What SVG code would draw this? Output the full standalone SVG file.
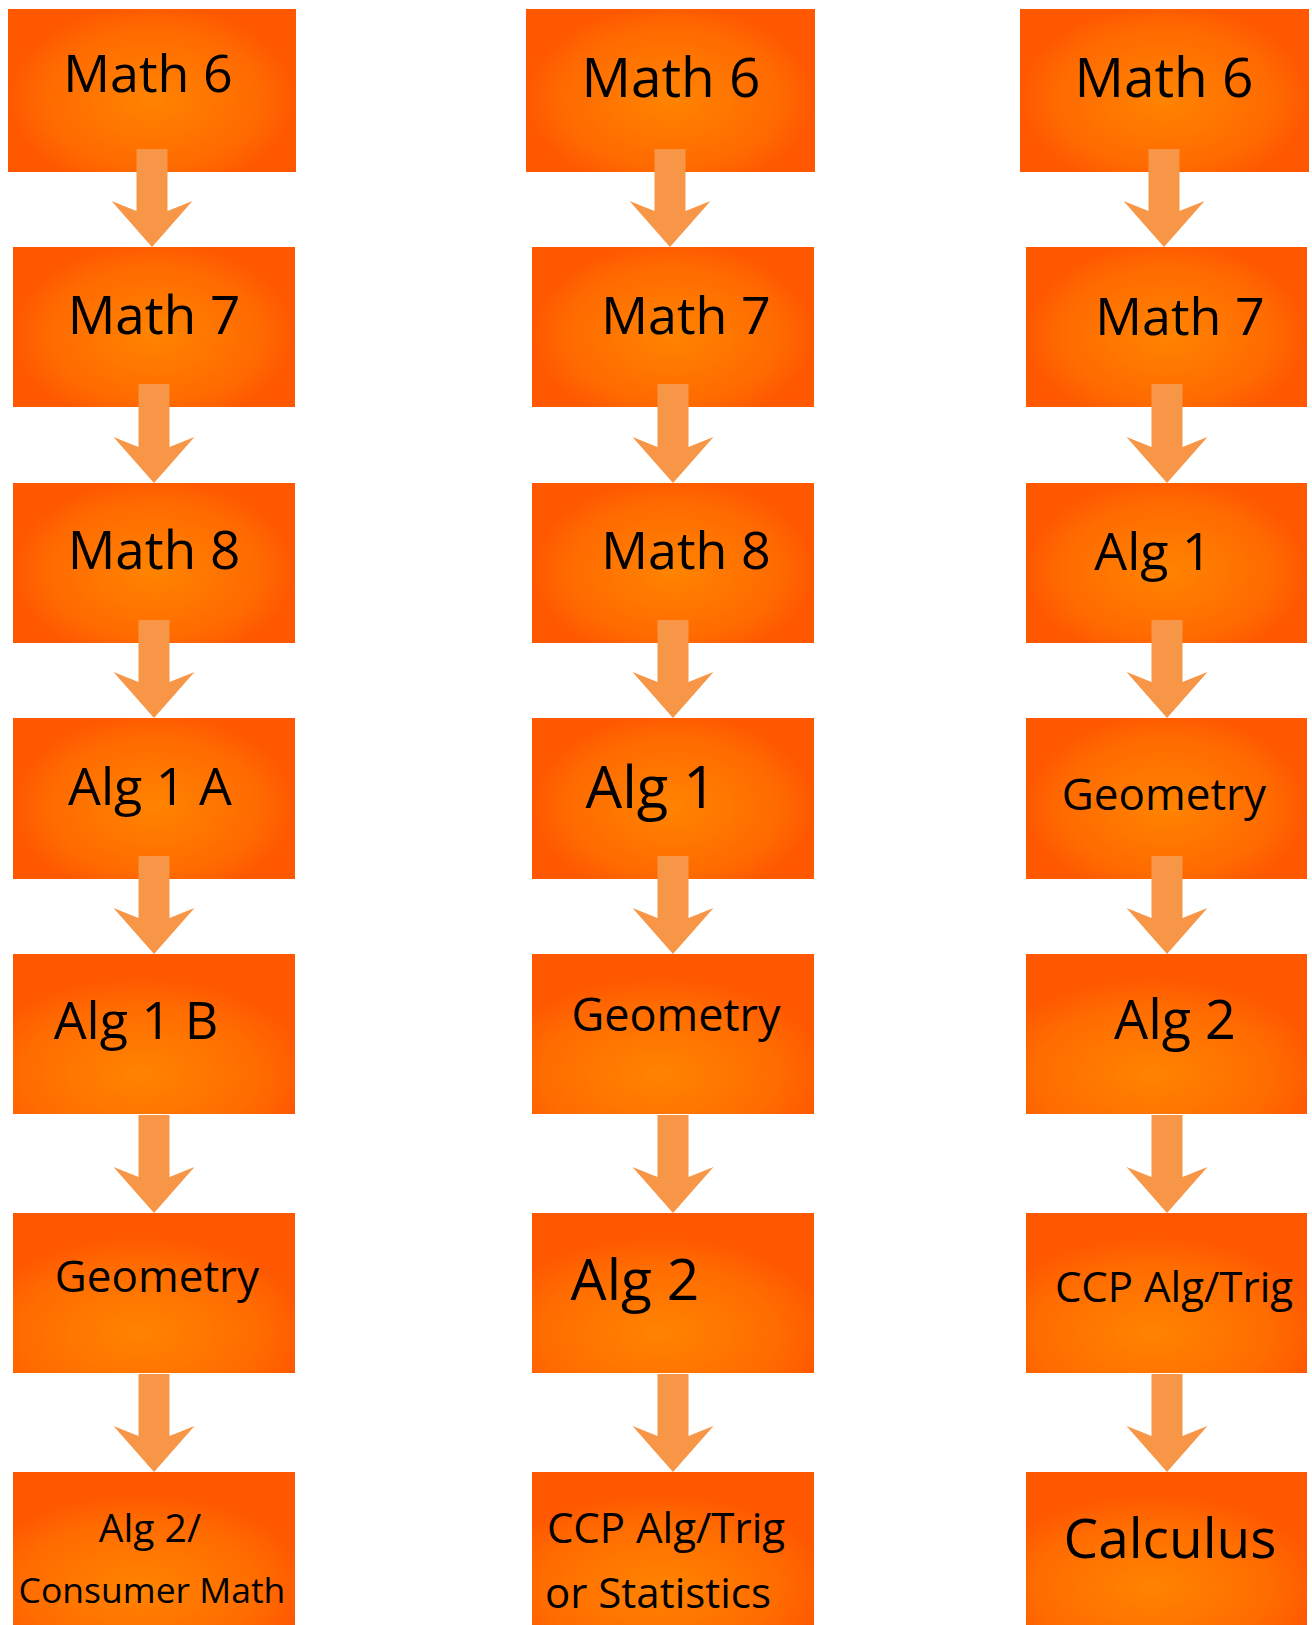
<svg xmlns="http://www.w3.org/2000/svg" width="1312" height="1625" viewBox="0 0 1312 1625">
<defs>
<radialGradient id="gUp" cx="0.5" cy="0.55" r="0.5" fx="0.5" fy="0.55" gradientTransform="translate(0.5 0.55) scale(1 1.15) translate(-0.5 -0.55)">
<stop offset="0" stop-color="#FF8400"/>
<stop offset="0.75" stop-color="#FF6A00"/>
<stop offset="1" stop-color="#FF5800"/>
</radialGradient>
<radialGradient id="gLow" cx="0.45" cy="0.75" r="0.6" fx="0.45" fy="0.75">
<stop offset="0" stop-color="#FF8400"/>
<stop offset="0.7" stop-color="#FF6C00"/>
<stop offset="1" stop-color="#FF5800"/>
</radialGradient>
<style>
.up{fill:url(#gUp)}
.low{fill:url(#gLow)}
.t{font-family:"Open Sans","Noto Sans",sans-serif;fill:#000;text-anchor:middle}
.arr{fill:#F79646}
</style>
</defs>
<rect width="1312" height="1625" fill="#fff"/>

<g id="c1r1"><rect class="up" x="8" y="9" width="288" height="163"/><text class="t" x="148" y="92" font-size="52">Math 6</text></g>
<g id="c1r2"><rect class="up" x="13" y="247" width="282" height="160"/><text class="t" x="154" y="334" font-size="53">Math 7</text></g>
<g id="c1r3"><rect class="up" x="13" y="483" width="282" height="160"/><text class="t" x="154" y="569" font-size="53">Math 8</text></g>
<g id="c1r4"><rect class="up" x="13" y="718" width="282" height="161"/><text class="t" x="150" y="805" font-size="52">Alg 1 A</text></g>
<g id="c1r5"><rect class="low" x="13" y="954" width="282" height="160"/><text class="t" x="136" y="1039" font-size="52">Alg 1 B</text></g>
<g id="c1r6"><rect class="low" x="13" y="1213" width="282" height="160"/><text class="t" x="157" y="1292" font-size="44">Geometry</text></g>
<g id="c1r7"><rect class="low" x="13" y="1472" width="282" height="153"/><text class="t" x="150" y="1542" font-size="39">Alg 2/</text><text class="t" x="152" y="1603" font-size="35.5">Consumer Math</text></g>

<g id="c2r1"><rect class="up" x="526" y="9" width="289" height="163"/><text class="t" x="671" y="97" font-size="55">Math 6</text></g>
<g id="c2r2"><rect class="up" x="532" y="247" width="282" height="160"/><text class="t" x="686" y="334" font-size="52">Math 7</text></g>
<g id="c2r3"><rect class="up" x="532" y="483" width="282" height="160"/><text class="t" x="686" y="569" font-size="52">Math 8</text></g>
<g id="c2r4"><rect class="up" x="532" y="718" width="282" height="161"/><text class="t" x="651" y="808" font-size="58">Alg 1</text></g>
<g id="c2r5"><rect class="low" x="532" y="954" width="282" height="160"/><text class="t" x="676" y="1031" font-size="45">Geometry</text></g>
<g id="c2r6"><rect class="low" x="532" y="1213" width="282" height="160"/><text class="t" x="635" y="1300" font-size="57">Alg 2</text></g>
<g id="c2r7"><rect class="low" x="532" y="1472" width="282" height="153"/><text class="t" x="666" y="1543" font-size="42">CCP Alg/Trig</text><text class="t" x="658" y="1608" font-size="42">or Statistics</text></g>

<g id="c3r1"><rect class="up" x="1020" y="9" width="289" height="163"/><text class="t" x="1164" y="97" font-size="55">Math 6</text></g>
<g id="c3r2"><rect class="up" x="1026" y="247" width="281" height="160"/><text class="t" x="1180" y="335" font-size="52">Math 7</text></g>
<g id="c3r3"><rect class="up" x="1026" y="483" width="281" height="160"/><text class="t" x="1153" y="570" font-size="52">Alg 1</text></g>
<g id="c3r4"><rect class="up" x="1026" y="718" width="281" height="161"/><text class="t" x="1164" y="810" font-size="44">Geometry</text></g>
<g id="c3r5"><rect class="low" x="1026" y="954" width="281" height="160"/><text class="t" x="1175" y="1039" font-size="54">Alg 2</text></g>
<g id="c3r6"><rect class="low" x="1026" y="1213" width="281" height="160"/><text class="t" x="1174" y="1302" font-size="42">CCP Alg/Trig</text></g>
<g id="c3r7"><rect class="low" x="1026" y="1472" width="281" height="153"/><text class="t" x="1170" y="1558" font-size="55">Calculus</text></g>

<g id="connectors">
<polygon class="arr" points="136.5,149 167.5,149 167.5,211 192.5,201 152,247 111.5,201 136.5,211"/>
<polygon class="arr" points="138.5,384 169.5,384 169.5,447 194.5,437 154,483 113.5,437 138.5,447"/>
<polygon class="arr" points="138.5,620 169.5,620 169.5,682 194.5,672 154,718 113.5,672 138.5,682"/>
<polygon class="arr" points="138.5,856 169.5,856 169.5,918 194.5,908 154,954 113.5,908 138.5,918"/>
<polygon class="arr" points="138.5,1115 169.5,1115 169.5,1177 194.5,1167 154,1213 113.5,1167 138.5,1177"/>
<polygon class="arr" points="138.5,1374 169.5,1374 169.5,1436 194.5,1426 154,1472 113.5,1426 138.5,1436"/>

<polygon class="arr" points="654.5,149 685.5,149 685.5,211 710.5,201 670,247 629.5,201 654.5,211"/>
<polygon class="arr" points="657.5,384 688.5,384 688.5,447 713.5,437 673,483 632.5,437 657.5,447"/>
<polygon class="arr" points="657.5,620 688.5,620 688.5,682 713.5,672 673,718 632.5,672 657.5,682"/>
<polygon class="arr" points="657.5,856 688.5,856 688.5,918 713.5,908 673,954 632.5,908 657.5,918"/>
<polygon class="arr" points="657.5,1115 688.5,1115 688.5,1177 713.5,1167 673,1213 632.5,1167 657.5,1177"/>
<polygon class="arr" points="657.5,1374 688.5,1374 688.5,1436 713.5,1426 673,1472 632.5,1426 657.5,1436"/>

<polygon class="arr" points="1148.5,149 1179.5,149 1179.5,211 1204.5,201 1164,247 1123.5,201 1148.5,211"/>
<polygon class="arr" points="1151.5,384 1182.5,384 1182.5,447 1207.5,437 1167,483 1126.5,437 1151.5,447"/>
<polygon class="arr" points="1151.5,620 1182.5,620 1182.5,682 1207.5,672 1167,718 1126.5,672 1151.5,682"/>
<polygon class="arr" points="1151.5,856 1182.5,856 1182.5,918 1207.5,908 1167,954 1126.5,908 1151.5,918"/>
<polygon class="arr" points="1151.5,1115 1182.5,1115 1182.5,1177 1207.5,1167 1167,1213 1126.5,1167 1151.5,1177"/>
<polygon class="arr" points="1151.5,1374 1182.5,1374 1182.5,1436 1207.5,1426 1167,1472 1126.5,1426 1151.5,1436"/>
</g>
</svg>
